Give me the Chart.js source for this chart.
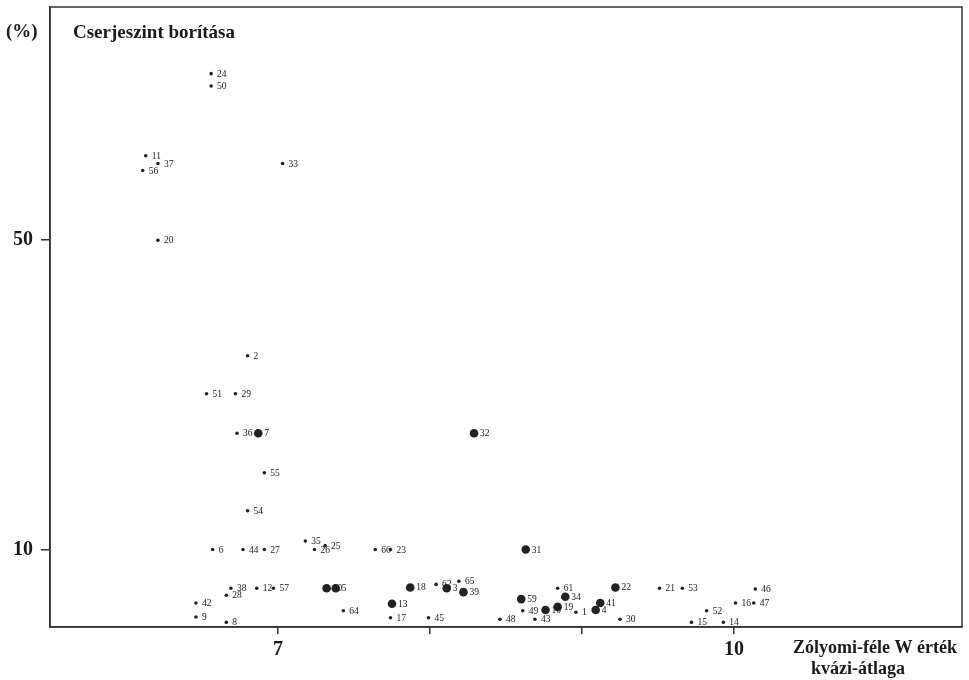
<!DOCTYPE html>
<html>
<head>
<meta charset="utf-8">
<script src="https://cdn.jsdelivr.net/npm/chart.js@4/dist/chart.umd.min.js"></script>
<style>
  html, body { margin: 0; padding: 0; background: #fff; }
  #wrap { width: 969px; height: 680px; }
</style>
</head>
<body>
<div id="wrap"><canvas id="c" width="969" height="680"></canvas></div>
<script>
// ---- Data ----
const yAxisUnit = '(%)';
const chartTitle = 'Cserjeszint borítása';
const xTitleLines = ['Zólyomi-féle W érték', 'kvázi-átlaga'];

const xTickValues = [7, 8, 9, 10];
const xTickLabels = ['7', '', '', '10'];
const yTickValues = [10, 50];
const yTickLabels = ['10', '50'];

// small markers
const smallIds = ['24','50','11','37','56','33','20','2','51','29','36','55','54','6','44','27','35','26','25','66','23','38','12','57','28','42','9','8','64','17','45','62','65','48','49','43','61','1','30','21','53','52','15','14','16','47','46'];
const smallX   = [6.56,6.56,6.13,6.21,6.11,7.03,6.21,6.80,6.53,6.72,6.73,6.91,6.80,6.57,6.77,6.91,7.18,7.24,7.31,7.64,7.74,6.69,6.86,6.97,6.66,6.46,6.46,6.66,7.43,7.74,7.99,8.04,8.19,8.46,8.61,8.69,8.84,8.96,9.25,9.51,9.66,9.82,9.72,9.93,10.01,10.13,10.14];
const smallY   = [71.4,69.8,60.8,59.8,58.9,59.8,49.9,35.0,30.1,30.1,25.0,19.9,15.0,10.0,10.0,10.0,11.1,10.0,10.5,10.0,10.0,5.0,5.0,5.0,4.1,3.1,1.3,0.6,2.1,1.2,1.2,5.5,5.9,1.0,2.1,1.0,5.0,1.9,1.0,5.0,5.0,2.1,0.6,0.6,3.1,3.1,4.9];

// large markers
const largeIds = ['7','32','31','60','5','18','3','39','13','59','34','19','10','4','41','22'];
const largeX   = [6.87,8.29,8.63,7.32,7.38,7.87,8.11,8.22,7.75,8.60,8.89,8.84,8.76,9.09,9.12,9.22];
const largeY   = [25.0,25.0,10.0,5.0,5.0,5.1,5.0,4.5,3.0,3.6,3.9,2.6,2.2,2.2,3.1,5.1];

const toPoints = (ids, xs, ys) => xs.map((x, i) => ({ x: x, y: ys[i], id: ids[i] }));

const SERIF = '"Liberation Serif", "DejaVu Serif", serif';
const INK = '#1a1a1a';

const framePlugin = {
  id: 'frame',
  afterDraw(chart) {
    const { ctx, chartArea: a } = chart;
    ctx.save();
    ctx.strokeStyle = '#333';
    ctx.lineWidth = 1.5;
    ctx.strokeRect(a.left, a.top, a.right - a.left, a.bottom - a.top);
    ctx.restore();
  }
};

const labelPlugin = {
  id: 'pointLabels',
  afterDatasetsDraw(chart) {
    const { ctx } = chart;
    ctx.save();
    ctx.fillStyle = INK;
    ctx.font = '9.5px ' + SERIF;
    ctx.textBaseline = 'middle';
    ctx.textAlign = 'left';
    chart.data.datasets.forEach((ds, di) => {
      const meta = chart.getDatasetMeta(di);
      const off = di === 0 ? 6 : 6;
      meta.data.forEach((el, i) => {
        ctx.fillText(ds.data[i].id, el.x + off, el.y + 0.5);
      });
    });
    ctx.restore();
  }
};

const textPlugin = {
  id: 'texts',
  afterDraw(chart) {
    const { ctx } = chart;
    ctx.save();
    ctx.fillStyle = INK;
    ctx.textBaseline = 'middle';
    ctx.font = 'bold 19px ' + SERIF;
    ctx.textAlign = 'left';
    ctx.fillText(yAxisUnit, 6, 32);
    ctx.fillText(chartTitle, 73, 33);
    ctx.font = 'bold 18px ' + SERIF;
    ctx.textAlign = 'center';
    ctx.fillText(xTitleLines[0], 875, 648);
    ctx.fillText(xTitleLines[1], 858, 669);
    ctx.restore();
  }
};

new Chart(document.getElementById('c'), {
  type: 'scatter',
  data: {
    datasets: [
      {
        label: 'small',
        data: toPoints(smallIds, smallX, smallY),
        pointRadius: 1.8,
        pointHoverRadius: 1.8,
        backgroundColor: '#222',
        borderWidth: 0
      },
      {
        label: 'large',
        data: toPoints(largeIds, largeX, largeY),
        pointRadius: 4.3,
        pointHoverRadius: 4.3,
        backgroundColor: '#222',
        borderWidth: 0
      }
    ]
  },
  options: {
    responsive: false,
    animation: false,
    devicePixelRatio: 1,
    layout: { padding: { top: 7, right: 7, left: 0, bottom: 0 } },
    plugins: { legend: { display: false }, tooltip: { enabled: false } },
    scales: {
      x: {
        type: 'linear',
        min: 5.5,
        max: 11.5,
        afterBuildTicks: (s) => { s.ticks = xTickValues.map(v => ({ value: v })); },
        afterFit: (s) => { s.height = 53; s.paddingLeft = 0; s.paddingRight = 0; },
        ticks: {
          autoSkip: false,
          maxRotation: 0,
          padding: 4,
          color: INK,
          font: { family: SERIF, size: 20, weight: 'bold' },
          callback: (v) => { const i = xTickValues.indexOf(v); return i >= 0 ? xTickLabels[i] : ''; }
        },
        grid: { drawOnChartArea: false, drawTicks: true, tickLength: 7, color: '#333', lineWidth: 1.5 },
        border: { display: true, color: '#333', width: 1.5 }
      },
      y: {
        type: 'linear',
        min: 0,
        max: 80,
        afterBuildTicks: (s) => { s.ticks = yTickValues.map(v => ({ value: v })); },
        afterFit: (s) => { s.width = 50; s.paddingTop = 0; s.paddingBottom = 0; },
        ticks: {
          autoSkip: false,
          padding: 8,
          color: INK,
          font: { family: SERIF, size: 20, weight: 'bold' },
          callback: (v) => { const i = yTickValues.indexOf(v); return i >= 0 ? yTickLabels[i] : ''; }
        },
        grid: { drawOnChartArea: false, drawTicks: true, tickLength: 9, color: '#333', lineWidth: 1.5 },
        border: { display: true, color: '#333', width: 1.5 }
      }
    }
  },
  plugins: [framePlugin, labelPlugin, textPlugin]
});
</script>
</body>
</html>
